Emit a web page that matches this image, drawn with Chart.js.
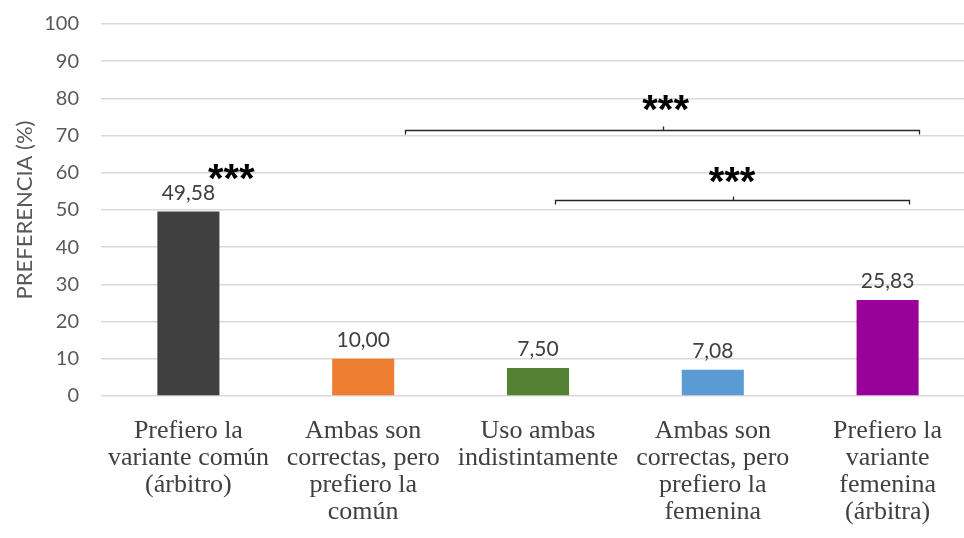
<!DOCTYPE html>
<html>
<head>
<meta charset="utf-8">
<script src="https://cdn.jsdelivr.net/npm/chart.js@4"></script>
<style>
  html, body { margin: 0; padding: 0; background: #fff; overflow: hidden; }
  #wrap { width: 976px; height: 538px; }
</style>
</head>
<body>
<div id="wrap"><canvas id="prefChart"></canvas></div>
<script>
const categories = [
    ['Prefiero la', 'variante común', '(árbitro)'],
    ['Ambas son', 'correctas, pero', 'prefiero la', 'común'],
    ['Uso ambas', 'indistintamente'],
    ['Ambas son', 'correctas, pero', 'prefiero la', 'femenina'],
    ['Prefiero la', 'variante', 'femenina', '(árbitra)']
];
const preferencia = [49.58, 10.00, 7.50, 7.08, 25.83];
const barColors = ['#404040', '#ED7D31', '#548235', '#5B9BD5', '#990099'];
const yTicks = [0, 10, 20, 30, 40, 50, 60, 70, 80, 90, 100];

// significance brackets, in data units (category index / percent)
const bracketFrom = [1.24, 2.1];
const bracketTo = [4.18, 4.12];
const bracketLevel = [71.5, 52.7];
// significance stars (centres)
const starX = [0.245, 2.73, 3.11];
const starY = [61.0, 79.6, 60.3];

const annotations = {
    id: 'annotations',
    afterDatasetsDraw(chart) {
        const { ctx, scales: { x, y } } = chart;
        ctx.save();

        // value labels
        const meta = chart.getDatasetMeta(0);
        ctx.font = '21px Lato';
        ctx.fillStyle = '#404040';
        ctx.textAlign = 'center';
        ctx.textBaseline = 'alphabetic';
        meta.data.forEach((bar, i) => {
            ctx.fillText(preferencia[i].toFixed(2).replace('.', ','), bar.x, bar.y - 12);
        });

        // brackets
        ctx.strokeStyle = '#262626';
        ctx.lineWidth = 1.3;
        bracketFrom.forEach((from, i) => {
            const x1 = Math.round(x.getPixelForValue(from)) + 0.5;
            const x2 = Math.round(x.getPixelForValue(bracketTo[i])) + 0.5;
            const yy = Math.round(y.getPixelForValue(bracketLevel[i])) + 0.5;
            const mid = Math.round((x1 + x2) / 2) + 0.5;
            ctx.beginPath();
            ctx.moveTo(x1, yy + 4);
            ctx.lineTo(x1, yy);
            ctx.lineTo(x2, yy);
            ctx.lineTo(x2, yy + 4);
            ctx.moveTo(mid, yy);
            ctx.lineTo(mid, yy - 4);
            ctx.stroke();
        });

        // stars
        const starSize = 40;
        ctx.font = 'bold ' + starSize + 'px "Liberation Sans"';
        ctx.fillStyle = '#000';
        ctx.textBaseline = 'alphabetic';
        starX.forEach((sx, i) => {
            ctx.fillText('***', x.getPixelForValue(sx), y.getPixelForValue(starY[i]) + starSize * 0.58);
        });

        ctx.restore();
    }
};

new Chart(document.getElementById('prefChart'), {
    type: 'bar',
    data: {
        labels: categories,
        datasets: [{
            data: preferencia,
            backgroundColor: barColors,
            borderWidth: 0,
            barPercentage: 0.355,
            categoryPercentage: 1
        }]
    },
    options: {
        responsive: true,
        maintainAspectRatio: false,
        animation: false,
        layout: { padding: { top: 24, right: 1, left: 0, bottom: 0 } },
        plugins: { legend: { display: false }, tooltip: { enabled: false } },
        scales: {
            x: {
                grid: { display: false },
                border: { display: false },
                ticks: {
                    color: '#404040',
                    maxRotation: 0,
                    autoSkip: false,
                    padding: 14,
                    font: { family: '"Liberation Serif"', size: 26, lineHeight: 27 / 26 }
                },
                afterFit: s => {
                    s.height = 142;
                    s.paddingLeft = 0; s.paddingRight = 0; s.paddingTop = 0; s.paddingBottom = 0;
                }
            },
            y: {
                min: 0,
                max: 100,
                afterBuildTicks: s => { s.ticks = yTicks.map(v => ({ value: v })); },
                grid: { color: '#d9d9d9', lineWidth: 1.5, drawTicks: false },
                border: { display: false },
                ticks: {
                    color: '#595959',
                    padding: 22,
                    font: { family: 'Lato', size: 20 }
                },
                title: {
                    display: true,
                    text: 'PREFERENCIA (%)',
                    color: '#595959',
                    font: { family: 'Lato', size: 22 },
                    padding: { top: 12, bottom: 0 }
                },
                afterFit: s => {
                    s.width = 101;
                    s.paddingTop = 0; s.paddingBottom = 0; s.paddingLeft = 0; s.paddingRight = 0;
                }
            }
        }
    },
    plugins: [annotations]
});
</script>
</body>
</html>
